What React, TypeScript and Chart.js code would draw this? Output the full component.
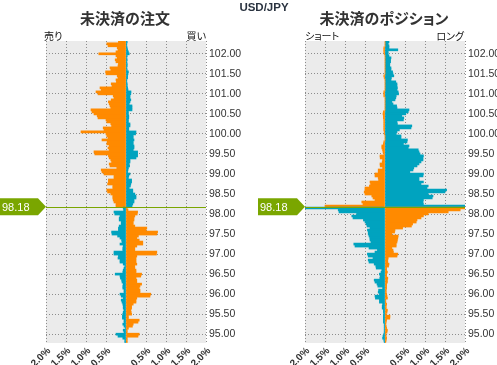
import React, { useEffect, useRef } from 'react';
import { Chart, registerables } from 'chart.js';

Chart.register(...registerables);

// Price levels (rows) from top to bottom
const prices = [
  102.30, 102.25, 102.20, 102.15, 102.10, 102.05, 102.00, 101.95, 101.90, 101.85,
  101.80, 101.75, 101.70, 101.65, 101.60, 101.55, 101.50, 101.45, 101.40, 101.35,
  101.30, 101.25, 101.20, 101.15, 101.10, 101.05, 101.00, 100.95, 100.90, 100.85,
  100.80, 100.75, 100.70, 100.65, 100.60, 100.55, 100.50, 100.45, 100.40, 100.35,
  100.30, 100.25, 100.20, 100.15, 100.10, 100.05, 100.00, 99.95, 99.90, 99.85,
  99.80, 99.75, 99.70, 99.65, 99.60, 99.55, 99.50, 99.45, 99.40, 99.35,
  99.30, 99.25, 99.20, 99.15, 99.10, 99.05, 99.00, 98.95, 98.90, 98.85,
  98.80, 98.75, 98.70, 98.65, 98.60, 98.55, 98.50, 98.45, 98.40, 98.35,
  98.30, 98.25, 98.20, 98.15, 98.10, 98.05, 98.00, 97.95, 97.90, 97.85,
  97.80, 97.75, 97.70, 97.65, 97.60, 97.55, 97.50, 97.45, 97.40, 97.35,
  97.30, 97.25, 97.20, 97.15, 97.10, 97.05, 97.00, 96.95, 96.90, 96.85,
  96.80, 96.75, 96.70, 96.65, 96.60, 96.55, 96.50, 96.45, 96.40, 96.35,
  96.30, 96.25, 96.20, 96.15, 96.10, 96.05, 96.00, 95.95, 95.90, 95.85,
  95.80, 95.75, 95.70, 95.65, 95.60, 95.55, 95.50, 95.45, 95.40, 95.35,
  95.30, 95.25, 95.20, 95.15, 95.10, 95.05, 95.00, 94.95, 94.90, 94.85,
  94.80,
];

const currentPrice = 98.18;
const currentPriceLabel = '98.18';

const priceTicks = [95.0, 95.5, 96.0, 96.5, 97.0, 97.5, 98.0, 98.5, 99.0, 99.5, 100.0, 100.5, 101.0, 101.5, 102.0];
const percentTicks = [-2, -1.5, -1, -0.5, 0, 0.5, 1, 1.5, 2];

// Open orders (%): left side (sell), right side (buy)
const orderLeft = [
  0.19, 0.48, 0.45, 0.22, 0.2, 0.25, 0.68, 0.25, 0.22, 0.27,
  0.25, 0.19, 0.2, 0.4, 0.38, 0.51, 0.5, 0.22, 0.2, 0.25,
  0.24, 0.37, 0.35, 0.65, 0.62, 0.75, 0.7, 0.32, 0.3, 0.37,
  0.44, 0.42, 0.4, 0.38, 0.875, 0.85, 0.8, 0.72, 0.7, 0.5,
  0.48, 0.38, 0.36, 0.57, 0.55, 1.125, 0.5, 0.48, 0.45, 0.6,
  0.47, 0.48, 0.42, 0.45, 0.42, 0.8, 0.78, 0.44, 0.42, 0.38,
  0.36, 0.42, 0.4, 0.23, 0.62, 0.6, 0.55, 0.3, 0.3, 0.44,
  0.44, 0.46, 0.33, 0.33, 0.48, 0.46, 0.38, 0.33, 0.33, 0.32,
  0.3, 0.25, 0.25, 0.07, 0.06, 0.3, 0.28, 0.15, 0.17, 0.17,
  0.12, 0.12, 0.17, 0.19, 0.19, 0.36, 0.35, 0.21, 0.15, 0.11,
  0.1, 0.15, 0.07, 0.08, 0.08, 0.3, 0.3, 0.19, 0.2, 0.15,
  0.15, 0.07, 0.03, 0.05, 0.07, 0.08, 0.27, 0.15, 0.14, 0.11,
  0.1, 0.07, 0.08, 0.08, 0.05, 0.05, 0.15, 0.12, 0.07, 0.12,
  0.1, 0.08, 0.07, 0.07, 0.05, 0.07, 0.08, 0.09, 0.09, 0.05,
  0.05, 0.08, 0.05, 0.02, 0.07, 0.05, 0.25, 0.2, 0.08, 0.03,
  0.03,
];
const orderRight = [
  0.03, 0.02, 0.02, 0.03, 0.04, 0.06, 0.08, 0.03, 0.02, 0.03,
  0.02, 0.03, 0.03, 0.02, 0.03, 0.06, 0.05, 0.04, 0.04, 0.02,
  0.02, 0.03, 0.03, 0.04, 0.05, 0.125, 0.12, 0.1, 0.1, 0.12,
  0.1, 0.08, 0.15, 0.15, 0.15, 0.06, 0.06, 0.07, 0.07, 0.06,
  0.06, 0.1, 0.1, 0.07, 0.07, 0.25, 0.24, 0.18, 0.18, 0.2,
  0.18, 0.18, 0.2, 0.2, 0.18, 0.29, 0.29, 0.29, 0.25, 0.1,
  0.1, 0.08, 0.09, 0.06, 0.05, 0.04, 0.1, 0.07, 0.06, 0.14,
  0.14, 0.12, 0.11, 0.08, 0.17, 0.17, 0.22, 0.25, 0.25, 0.2,
  0.2, 0.17, 0.15, 0.03, 0.05, 0.29, 0.28, 0.22, 0.2, 0.2,
  0.18, 0.18, 0.22, 0.52, 0.5, 0.79, 0.77, 0.31, 0.27, 0.33,
  0.42, 0.42, 0.27, 0.22, 0.22, 0.77, 0.76, 0.27, 0.25, 0.25,
  0.25, 0.27, 0.22, 0.22, 0.25, 0.25, 0.39, 0.37, 0.25, 0.27,
  0.27, 0.39, 0.35, 0.33, 0.35, 0.35, 0.62, 0.6, 0.27, 0.25,
  0.25, 0.18, 0.14, 0.14, 0.12, 0.13, 0.14, 0.06, 0.06, 0.33,
  0.3, 0.18, 0.16, 0.06, 0.03, 0.03, 0.33, 0.3, 0.03, 0.03,
  0.03,
];

// Open positions (%): left side (short), right side (long)
const positionLeft = [
  0, 0, 0, 0.03, 0.03, 0.03, 0.02, 0, 0, 0,
  0, 0, 0, 0, 0, 0, 0, 0.03, 0.02, 0,
  0, 0, 0, 0, 0, 0.03, 0.03, 0.03, 0, 0,
  0, 0, 0, 0, 0, 0.04, 0.05, 0.04, 0.04, 0.03,
  0.03, 0.03, 0.03, 0.03, 0.03, 0.02, 0.02, 0, 0, 0,
  0.03, 0.04, 0.08, 0.08, 0.06, 0.05, 0.03, 0.125, 0.12, 0.06,
  0.07, 0.125, 0.12, 0.06, 0.17, 0.17, 0.25, 0.25, 0.17, 0.16,
  0.375, 0.36, 0.39, 0.5, 0.5, 0.52, 0.5, 0.33, 0.3, 0.25,
  0.58, 0.55, 1.5, 2.2, 1.17, 1.15, 0.71, 0.83, 0.8, 0.54,
  0.5, 0.47, 0.45, 0.375, 0.44, 0.42, 0.42, 0.4, 0.38, 0.375,
  0.35, 0.78, 0.75, 0.4, 0.19, 0.25, 0.44, 0.42, 0.3, 0.42,
  0.4, 0.27, 0.23, 0.22, 0.08, 0.1, 0.14, 0.12, 0.13, 0.27,
  0.25, 0.2, 0.18, 0.06, 0.16, 0.17, 0.14, 0.25, 0.24, 0.14,
  0.14, 0.06, 0.07, 0.07, 0.04, 0.04, 0.03, 0.04, 0.04, 0.04,
  0.04, 0.02, 0.02, 0.02, 0.02, 0.02, 0.03, 0.05, 0.06, 0.03,
  0.02,
];
const positionRight = [
  0.1, 0.08, 0.1, 0.1, 0.32, 0.08, 0.08, 0.1, 0.15, 0.14,
  0.14, 0.12, 0.12, 0.15, 0.15, 0.19, 0.2, 0.22, 0.16, 0.15,
  0.27, 0.3, 0.3, 0.31, 0.3, 0.33, 0.34, 0.28, 0.27, 0.25,
  0.17, 0.2, 0.29, 0.3, 0.6, 0.58, 0.52, 0.42, 0.47, 0.46,
  0.3, 0.31, 0.67, 0.65, 0.36, 0.3, 0.28, 0.4, 0.4, 0.56,
  0.55, 0.46, 0.6, 0.58, 0.83, 0.85, 0.875, 0.96, 0.95, 0.95,
  0.9, 0.85, 0.8, 0.72, 0.7, 0.62, 0.96, 0.95, 0.85, 0.85,
  0.96, 0.9, 1.08, 1.05, 1.54, 1.5, 1.08, 1.2, 1.18, 0.96,
  0.95, 0.96, 2.2, 2.2, 1.88, 1.58, 1.08, 0.96, 0.9, 0.8,
  0.78, 0.69, 0.66, 0.44, 0.25, 0.24, 0.17, 0.33, 0.32, 0.31,
  0.3, 0.28, 0.28, 0.17, 0.2, 0.21, 0.32, 0.3, 0.08, 0.07,
  0.07, 0.1, 0.09, 0.04, 0.04, 0.06, 0.04, 0.04, 0.07, 0.06,
  0.06, 0.04, 0.04, 0.04, 0.03, 0.03, 0.04, 0.05, 0.06, 0.02,
  0.02, 0.04, 0.03, 0.03, 0.06, 0.05, 0.03, 0.125, 0.12, 0.04,
  0.03, 0.02, 0.03, 0.04, 0.06, 0.05, 0.02, 0.03, 0.04, 0.03,
  0.02,
];

const ORANGE = '#ff8a00';
const TEAL = '#00a3bf';
const GREEN = '#7aa600';
const PANEL_BG = '#ebebeb';
const GRID = '#8c8c8c';

function decorPlugin(tagLeft: number) {
  return {
    id: 'decor',
    beforeDraw(chart: any) {
      const { ctx, chartArea: a } = chart;
      ctx.save();
      ctx.fillStyle = PANEL_BG;
      ctx.fillRect(a.left, a.top, a.right - a.left, a.bottom - a.top);
      ctx.restore();
    },
    afterDatasetsDraw(chart: any) {
      const { ctx, chartArea: a } = chart;
      const y = chart.scales.y.getPixelForValue(currentPrice);
      ctx.save();
      ctx.strokeStyle = GREEN;
      ctx.lineWidth = 1;
      ctx.beginPath();
      ctx.moveTo(a.left, Math.round(y) + 0.5);
      ctx.lineTo(a.right, Math.round(y) + 0.5);
      ctx.stroke();
      const h = 8.5;
      ctx.fillStyle = GREEN;
      ctx.beginPath();
      ctx.moveTo(tagLeft, y - h);
      ctx.lineTo(a.left - 8, y - h);
      ctx.lineTo(a.left, y);
      ctx.lineTo(a.left - 8, y + h);
      ctx.lineTo(tagLeft, y + h);
      ctx.closePath();
      ctx.fill();
      ctx.fillStyle = '#ffffff';
      ctx.font = '11px "Liberation Sans", Arial, sans-serif';
      ctx.textBaseline = 'middle';
      ctx.textAlign = 'left';
      ctx.fillText(currentPriceLabel, tagLeft + 2, y + 1);
      ctx.restore();
    },
  };
}

function buildChart(
  canvas: HTMLCanvasElement,
  leftVals: number[],
  rightVals: number[],
  padLeft: number,
  axisWidth: number,
  tagLeft: number
) {
  const leftColors = prices.map((p) => (p > currentPrice ? ORANGE : TEAL));
  const rightColors = prices.map((p) => (p > currentPrice ? TEAL : ORANGE));
  const barOpts = {
    grouped: false,
    barPercentage: 1,
    categoryPercentage: 1,
    borderWidth: 0,
  };
  return new Chart(canvas, {
    type: 'bar',
    data: {
      datasets: [
        {
          data: prices.map((p, i) => ({ x: -leftVals[i], y: p })),
          backgroundColor: leftColors,
          ...barOpts,
        },
        {
          data: prices.map((p, i) => ({ x: rightVals[i], y: p })),
          backgroundColor: rightColors,
          ...barOpts,
        },
      ],
    } as any,
    options: {
      indexAxis: 'y',
      responsive: false,
      animation: false,
      devicePixelRatio: 1,
      layout: { padding: { left: padLeft, top: 41, right: 0, bottom: 0 } },
      plugins: {
        legend: { display: false },
        tooltip: { enabled: false },
      },
      scales: {
        x: {
          type: 'linear',
          min: -2,
          max: 2,
          offset: false,
          afterBuildTicks: (s: any) => {
            s.ticks = percentTicks.map((v) => ({ value: v }));
          },
          afterFit: (s: any) => {
            s.height = 22;
          },
          ticks: {
            autoSkip: false,
            minRotation: 45,
            maxRotation: 45,
            padding: 2,
            labelOffset: 3,
            color: '#333',
            font: { size: 10, weight: 'bold', family: '"Liberation Sans", Arial, sans-serif' },
            callback: (v: any) => (Number(v) === 0 ? '' : Math.abs(Number(v)).toFixed(1) + '%'),
          },
          grid: { color: GRID, lineWidth: 1, drawTicks: false, offset: false },
          border: { display: false, dash: [1, 2] },
        },
        y: {
          type: 'linear',
          position: 'right',
          min: 94.78,
          max: 102.32,
          offset: false,
          afterBuildTicks: (s: any) => {
            s.ticks = priceTicks.map((v) => ({ value: v }));
          },
          afterFit: (s: any) => {
            s.width = axisWidth;
          },
          ticks: {
            autoSkip: false,
            padding: 3,
            color: '#333',
            font: { size: 10.5, family: '"Liberation Sans", Arial, sans-serif' },
            callback: (v: any) => Number(v).toFixed(2),
          },
          grid: { color: GRID, lineWidth: 1, drawTicks: false, offset: false },
          border: { display: false, dash: [1, 2] },
        },
      },
    } as any,
    plugins: [decorPlugin(tagLeft)],
  });
}

const abs = (l: number, t: number, extra: any = {}) => ({
  position: 'absolute' as const,
  left: l,
  top: t,
  whiteSpace: 'nowrap' as const,
  ...extra,
});

export default function App() {
  const leftRef = useRef<HTMLCanvasElement>(null);
  const rightRef = useRef<HTMLCanvasElement>(null);

  useEffect(() => {
    const c1 = buildChart(leftRef.current!, orderLeft, orderRight, 46, 44, 0);
    const c2 = buildChart(rightRef.current!, positionLeft, positionRight, 55, 32, 8);
    return () => {
      c1.destroy();
      c2.destroy();
    };
  }, []);

  const jp = '"Noto Sans CJK JP", "Noto Sans", sans-serif';
  const titleStyle = {
    fontFamily: jp,
    fontWeight: 'bold',
    fontSize: 15,
    lineHeight: '15px',
    color: '#333',
    fontFeatureSettings: '"palt"',
    textAlign: 'center' as const,
    width: 200,
  };
  const sideStyle = {
    fontFamily: jp,
    fontSize: 10,
    lineHeight: '10px',
    color: '#111',
    fontFeatureSettings: '"palt"',
  };

  return (
    <div
      style={{
        position: 'absolute',
        left: 0,
        top: 0,
        width: 497,
        height: 365,
        background: '#fff',
        overflow: 'hidden',
      }}
    >
      <canvas ref={leftRef} width={250} height={365} style={{ position: 'absolute', left: 0, top: 0 }} />
      <canvas ref={rightRef} width={247} height={365} style={{ position: 'absolute', left: 250, top: 0 }} />
      <div
        style={abs(0, 1, {
          width: 528,
          textAlign: 'center',
          fontFamily: '"Liberation Sans", Arial, sans-serif',
          fontWeight: 'bold',
          fontSize: 11.5,
          lineHeight: '12px',
          color: '#2a3340',
        })}
      >
        USD/JPY
      </div>
      <div style={abs(25, 10, titleStyle)}>未決済の注文</div>
      <div style={abs(284, 10, titleStyle)}>未決済のポジション</div>
      <div style={abs(44, 31, sideStyle)}>売り</div>
      <div style={abs(156, 31, { ...sideStyle, width: 50, textAlign: 'right' })}>買い</div>
      <div style={abs(305, 31, sideStyle)}>ショート</div>
      <div style={abs(414, 31, { ...sideStyle, width: 50, textAlign: 'right' })}>ロング</div>
    </div>
  );
}
